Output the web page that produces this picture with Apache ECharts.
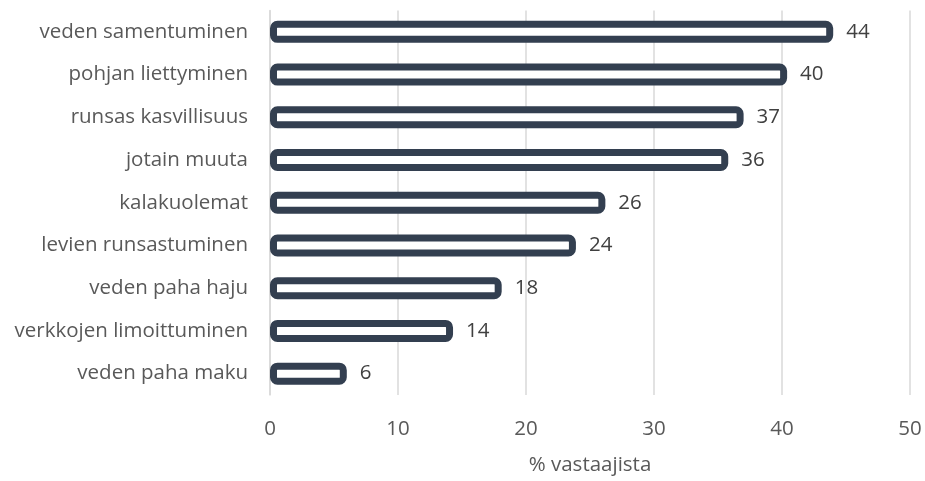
<!DOCTYPE html>
<html>
<head>
<meta charset="utf-8">
<script src="https://cdn.jsdelivr.net/npm/echarts@6/dist/echarts.min.js"></script>
<style>
	html, body { margin: 0; padding: 0; background: #fff; }
	#main { width: 925px; height: 481px; }
</style>
</head>
<body>
<div id="main"></div>
<script>
var categories = [
	'veden samentuminen',
	'pohjan liettyminen',
	'runsas kasvillisuus',
	'jotain muuta',
	'kalakuolemat',
	'levien runsastuminen',
	'veden paha haju',
	'verkkojen limoittuminen',
	'veden paha maku'
];
// % of respondents
var values = [44.0, 40.4, 37.0, 35.8, 26.2, 23.9, 18.1, 14.3, 6.0];
var xTicks = [0, 10, 20, 30, 40, 50];
var axisTitle = '% vastaajista';

var myChart = echarts.init(document.getElementById('main'));
var font = 'Open Sans';

var option = {
	animation: false,
	grid: {
		left: 270,
		right: 15,
		top: 10.5,
		bottom: 80.5
	},
	xAxis: {
		type: 'value',
		min: xTicks[0],
		max: xTicks[xTicks.length - 1],
		interval: 10,
		name: axisTitle,
		nameLocation: 'middle',
		nameGap: 60,
		nameTextStyle: { color: '#595959', fontSize: 20.5, fontFamily: font },
		axisLine: { show: false },
		axisTick: { show: false },
		axisLabel: { color: '#595959', fontSize: 20.5, fontFamily: font, margin: 24 },
		splitLine: { show: true, lineStyle: { color: '#d9d9d9', width: 1.5 } }
	},
	yAxis: {
		type: 'category',
		inverse: true,
		data: categories,
		axisLine: { show: true, lineStyle: { color: '#d9d9d9', width: 1.5 } },
		axisTick: { show: false },
		axisLabel: { color: '#595959', fontSize: 20.5, fontFamily: font, margin: 22 }
	},
	series: [{
		type: 'bar',
		data: values,
		barWidth: 22,
		itemStyle: {
			color: '#ffffff',
			borderColor: '#333F50',
			borderWidth: 7,
			borderRadius: 4
		},
		label: {
			show: true,
			position: 'right',
			distance: 13,
			color: '#404040',
			fontSize: 20.5,
			fontFamily: font,
			formatter: function(p) { return Math.round(p.value); }
		}
	}]
};
myChart.setOption(option);
</script>
</body>
</html>
